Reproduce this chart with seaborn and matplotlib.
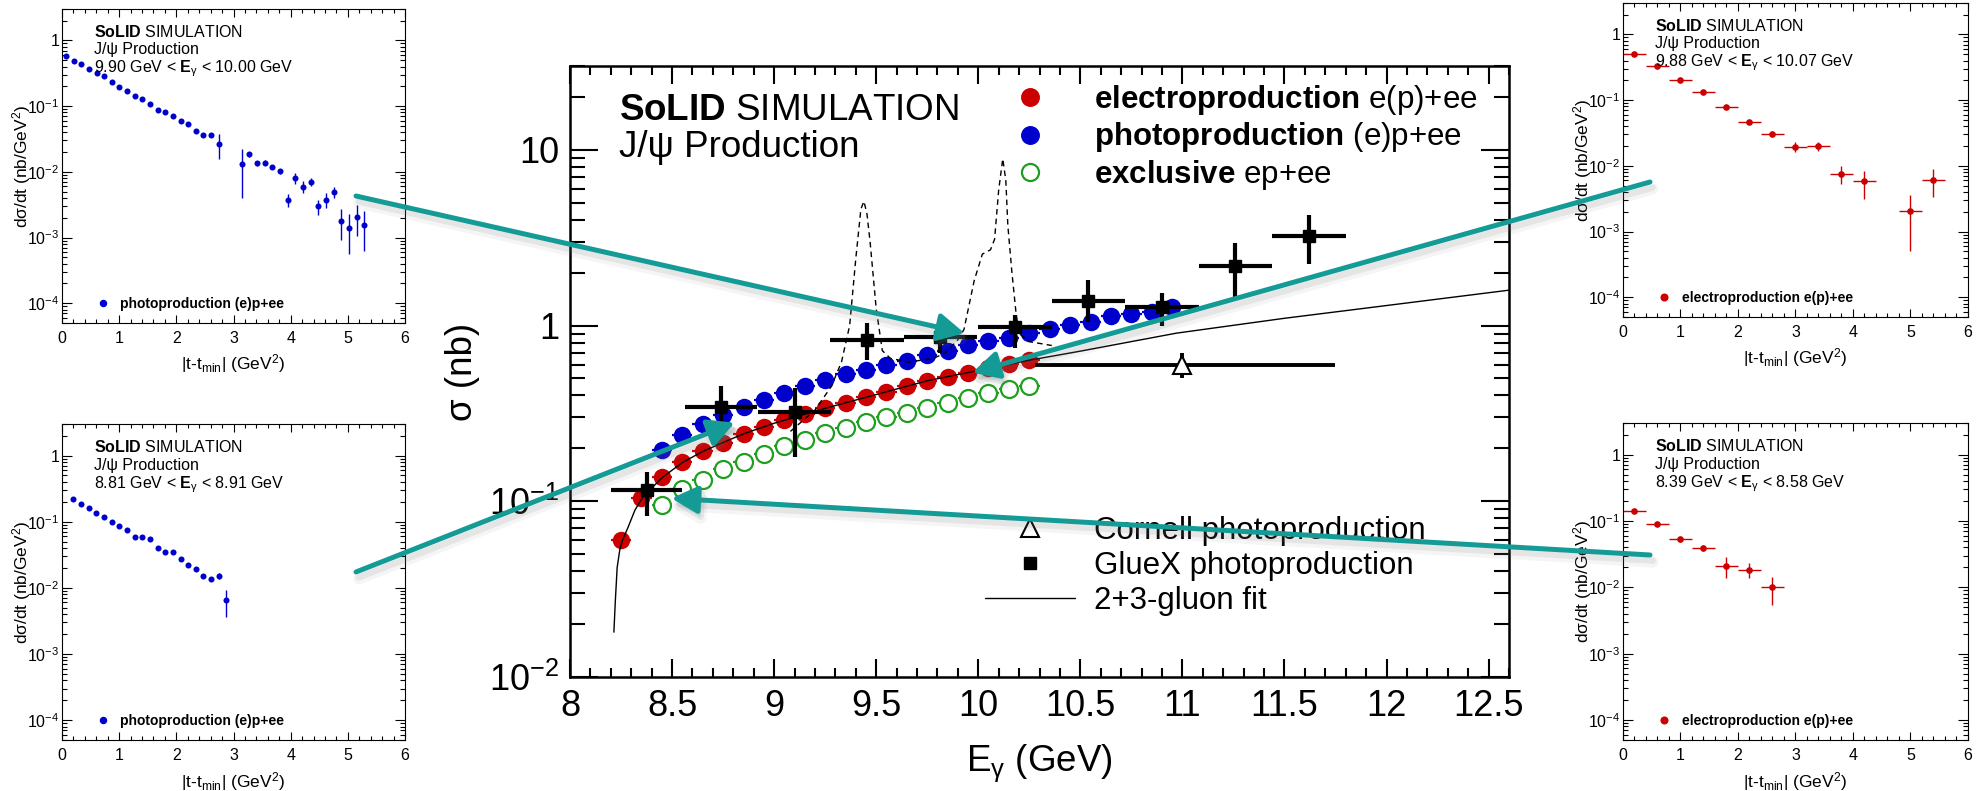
import matplotlib
matplotlib.use("Agg")
import matplotlib.pyplot as plt
import matplotlib.ticker as mticker
import matplotlib.patheffects as pe
from matplotlib.patches import ConnectionPatch
from matplotlib.lines import Line2D
import numpy as np
import seaborn as sns

sns.set_theme(style="ticks")
plt.rcParams.update({
    "font.family": ["Liberation Sans", "DejaVu Sans"],
    "mathtext.fontset": "custom",
    "mathtext.rm": "Liberation Sans",
    "mathtext.it": "Liberation Sans:italic",
    "mathtext.bf": "Liberation Sans:bold",
    "axes.edgecolor": "black",
    "xtick.color": "black",
    "ytick.color": "black",
    "text.color": "black",
    "axes.labelcolor": "black",
})

RED = "#cc0000"
BLUE = "#0000cc"
GREEN = "#1f9f1f"
TEAL = "#149b96"

# ---------------- main panel: sigma(E_gamma) ----------------
electro_E = [8.25, 8.35, 8.45, 8.55, 8.65, 8.75, 8.85, 8.95, 9.05, 9.15, 9.25,
             9.35, 9.45, 9.55, 9.65, 9.75, 9.85, 9.95, 10.05, 10.15, 10.25]
electro_sigma = [0.060, 0.105, 0.138, 0.168, 0.193, 0.216, 0.242, 0.266, 0.292, 0.314, 0.338,
                 0.362, 0.390, 0.420, 0.450, 0.485, 0.512, 0.540, 0.572, 0.605, 0.638]

photo_E = [8.45, 8.55, 8.65, 8.75, 8.85, 8.95, 9.05, 9.15, 9.25, 9.35, 9.45, 9.55, 9.65,
           9.75, 9.85, 9.95, 10.05, 10.15, 10.25, 10.35, 10.45, 10.55, 10.65, 10.75, 10.85, 10.95]
photo_sigma = [0.196, 0.238, 0.275, 0.310, 0.345, 0.375, 0.415, 0.450, 0.490, 0.530, 0.560, 0.600, 0.632,
               0.680, 0.720, 0.775, 0.820, 0.855, 0.905, 0.950, 1.010, 1.050, 1.130, 1.170, 1.200, 1.270]

excl_E = [8.45, 8.55, 8.65, 8.75, 8.85, 8.95, 9.05, 9.15, 9.25, 9.35, 9.45, 9.55,
          9.65, 9.75, 9.85, 9.95, 10.05, 10.15, 10.25]
excl_sigma = [0.095, 0.118, 0.133, 0.152, 0.168, 0.185, 0.205, 0.223, 0.244, 0.260, 0.284, 0.300,
              0.317, 0.338, 0.361, 0.386, 0.412, 0.434, 0.450]
bin_half = 0.05

gluex_E = [8.375, 8.74, 9.10, 9.455, 9.815, 10.18, 10.54, 10.90, 11.26, 11.62]
gluex_dE = [0.175, 0.175, 0.18, 0.18, 0.18, 0.18, 0.18, 0.18, 0.18, 0.18]
gluex_sigma = [0.116, 0.345, 0.322, 0.83, 0.866, 0.98, 1.38, 1.28, 2.17, 3.24]
gluex_lo = [0.082, 0.25, 0.178, 0.638, 0.696, 0.743, 1.05, 0.99, 1.46, 2.25]
gluex_hi = [0.147, 0.45, 0.44, 1.03, 1.10, 1.15, 1.82, 1.53, 2.95, 4.24]

cornell_E = [11.0]
cornell_E_lo = [10.28]
cornell_E_hi = [11.75]
cornell_sigma = [0.60]
cornell_lo = [0.50]
cornell_hi = [0.70]

fit_E = [8.215, 8.222, 8.231, 8.244, 8.257, 8.285, 8.318, 8.355, 8.45, 8.55, 8.65, 8.75,
         8.85, 9.0, 9.25, 9.5, 9.75, 10.0, 10.25, 10.5, 10.97, 11.5, 12.0, 12.6]
fit_sigma = [0.018, 0.027, 0.042, 0.053, 0.060, 0.0714, 0.089, 0.105, 0.136, 0.166, 0.192, 0.216,
             0.242, 0.278, 0.338, 0.405, 0.485, 0.555, 0.635, 0.715, 0.905, 1.10, 1.30, 1.59]

pc_E = [9.08, 9.20, 9.28, 9.33, 9.37, 9.40, 9.425, 9.44, 9.455, 9.47, 9.50, 9.53, 9.57,
        9.66, 9.78, 9.84, 9.90, 9.93, 9.98, 10.02, 10.06, 10.08, 10.10, 10.12, 10.135,
        10.145, 10.165, 10.185, 10.20, 10.25, 10.36]
pc_sigma = [0.25, 0.33, 0.45, 0.62, 1.0, 2.4, 4.6, 5.1, 4.3, 3.0, 1.25, 0.72, 0.65,
            0.62, 0.65, 0.70, 0.83, 0.95, 1.8, 2.55, 2.7, 3.1, 5.9, 8.9, 6.7,
            3.7, 2.0, 1.18, 0.90, 0.81, 0.77]

# ---------------- t-distributions ----------------
tl_t = [0.070, 0.204, 0.338, 0.472, 0.606, 0.740, 0.874, 1.002, 1.136, 1.270, 1.404, 1.538,
        1.672, 1.805, 1.939, 2.073, 2.207, 2.341, 2.475, 2.609, 2.743, 3.145, 3.279, 3.413,
        3.547, 3.681, 3.815, 3.949, 4.083, 4.217, 4.351, 4.485, 4.619, 4.752, 4.886, 5.020,
        5.154, 5.288]
tl_xs = [0.58, 0.493, 0.43, 0.369, 0.318, 0.283, 0.23, 0.198, 0.172, 0.144, 0.127, 0.107,
         0.0878, 0.081, 0.0713, 0.0599, 0.054, 0.0413, 0.036, 0.0364, 0.0269, 0.013, 0.0184, 0.0134,
         0.0138, 0.0118, 0.0102, 0.00376, 0.00807, 0.00597, 0.00711, 0.00298, 0.00376, 0.00491,
         0.00181, 0.0014, 0.00208, 0.00157]
tl_rel = [0.03] * 20 + [0.42, 0.69, 0.10, 0.08, 0.08, 0.08, 0.08, 0.22, 0.20, 0.20, 0.15,
                        0.25, 0.25, 0.20, 0.50, 0.60, 0.50, 0.60]

bl_t = [0.192, 0.332, 0.466, 0.600, 0.734, 0.868, 1.002, 1.136, 1.270, 1.404, 1.538, 1.672,
        1.805, 1.939, 2.073, 2.207, 2.341, 2.475, 2.609, 2.743, 2.877]
bl_xs = [0.2175, 0.187, 0.161, 0.137, 0.119, 0.100, 0.0873, 0.0743, 0.0582, 0.0589, 0.0543,
         0.0407, 0.0346, 0.035, 0.0269, 0.0223, 0.0192, 0.0153, 0.0136, 0.0153, 0.00648]
bl_rel = [0.03] * 19 + [0.10, 0.45]

tr_t = [0.2, 0.6, 1.0, 1.4, 1.8, 2.2, 2.6, 3.0, 3.4, 3.8, 4.2, 5.0, 5.4]
tr_xs = [0.51, 0.325, 0.205, 0.132, 0.0782, 0.0459, 0.0306, 0.0195, 0.0199, 0.00753,
         0.00577, 0.00203, 0.00611]
tr_rel = [0.03, 0.03, 0.03, 0.04, 0.05, 0.06, 0.08, 0.18, 0.15, 0.30, 0.45, 0.75, 0.45]

br_t = [0.2, 0.6, 1.0, 1.4, 1.8, 2.2, 2.6]
br_xs = [0.141, 0.0891, 0.0531, 0.0389, 0.0211, 0.0184, 0.0100]
br_rel = [0.05, 0.06, 0.08, 0.10, 0.35, 0.25, 0.45]
t_half = 0.2

W, H = 1981, 791
fig = plt.figure(figsize=(W / 100, H / 100), dpi=100)


def box(l, t, r, b):
    return [l / W, 1 - b / H, (r - l) / W, (b - t) / H]


def log_label(v, pos):
    e = int(round(np.log10(v)))
    if e == 0:
        return "1"
    if e == 1:
        return "10"
    return r"$10^{%d}$" % e


# ================= main axes =================
ax = fig.add_axes(box(570, 66, 1509, 677))
ax.set_yscale("log")
ax.set_xlim(8, 12.6)
ax.set_ylim(0.01, 30)

ax.plot(pc_E, pc_sigma, color="black", lw=1.0, ls=(0, (4, 3)), zorder=4)

ax.errorbar(electro_E, electro_sigma, xerr=bin_half, fmt="none", ecolor=RED, elinewidth=1.6, zorder=2)
ax.errorbar(photo_E, photo_sigma, xerr=bin_half, fmt="none", ecolor=BLUE, elinewidth=1.6, zorder=2)
ax.errorbar(excl_E, excl_sigma, xerr=bin_half, fmt="none", ecolor=GREEN, elinewidth=1.6, zorder=2)

sns.scatterplot(x=electro_E, y=electro_sigma, ax=ax, s=158, color=RED, linewidth=0, zorder=3, legend=False)
sns.scatterplot(x=photo_E, y=photo_sigma, ax=ax, s=158, color=BLUE, linewidth=0, zorder=3, legend=False)
sns.scatterplot(x=excl_E, y=excl_sigma, ax=ax, s=150, color="white", edgecolor=GREEN,
                linewidth=1.6, zorder=3, legend=False)

ax.plot(fit_E, fit_sigma, color="black", lw=1.0, zorder=4)

g_sig = np.array(gluex_sigma)
ax.errorbar(gluex_E, gluex_sigma, xerr=gluex_dE,
            yerr=[g_sig - np.array(gluex_lo), np.array(gluex_hi) - g_sig],
            fmt="s", ms=9, color="black", elinewidth=3.0, capsize=0, zorder=5)

c_E = np.array(cornell_E)
c_sig = np.array(cornell_sigma)
ax.errorbar(cornell_E, cornell_sigma,
            xerr=[c_E - np.array(cornell_E_lo), np.array(cornell_E_hi) - c_E],
            yerr=[c_sig - np.array(cornell_lo), np.array(cornell_hi) - c_sig],
            fmt="^", ms=13, mfc="white", mec="black", mew=1.5, ecolor="black",
            elinewidth=2.8, capsize=0, zorder=5)

ax.xaxis.set_major_locator(mticker.MultipleLocator(0.5))
ax.xaxis.set_minor_locator(mticker.MultipleLocator(0.1))
ax.xaxis.set_major_formatter(mticker.FuncFormatter(lambda v, p: "%g" % v))
ax.yaxis.set_major_locator(mticker.LogLocator(base=10, numticks=10))
ax.yaxis.set_minor_locator(mticker.LogLocator(base=10, subs=np.arange(2, 10), numticks=20))
ax.yaxis.set_major_formatter(mticker.FuncFormatter(log_label))
ax.yaxis.set_minor_formatter(mticker.NullFormatter())
ax.tick_params(which="both", direction="in", top=True, right=True, width=1.5, labelsize=26)
ax.tick_params(axis="x", which="major", length=13, pad=9)
ax.tick_params(axis="x", which="minor", length=6.5)
ax.tick_params(axis="y", which="major", length=20, pad=8)
ax.tick_params(axis="y", which="minor", length=11)
for sp in ax.spines.values():
    sp.set_linewidth(1.8)

ax.set_xlabel(r"E$_{\mathregular{γ}}$ (GeV)", fontsize=26.5)
ax.xaxis.set_label_coords(0.50, -0.141)
ax.xaxis.label.set_va("center")
ax.set_ylabel("σ (nb)", fontsize=26.5)
ax.yaxis.set_label_coords(-0.115, 0.5)
ax.yaxis.label.set_va("center")

ax.text(0.052, 0.9116, r"$\mathbf{SoLID}$ SIMULATION", transform=ax.transAxes,
        fontsize=26.5, va="baseline", ha="left")
ax.text(0.052, 0.8516, "J/ψ Production", transform=ax.transAxes,
        fontsize=26.5, va="baseline", ha="left")

h_el = Line2D([], [], ls="", marker="o", ms=12.6, mfc=RED, mec=RED)
h_ph = Line2D([], [], ls="", marker="o", ms=12.6, mfc=BLUE, mec=BLUE)
h_ex = Line2D([], [], ls="", marker="o", ms=12.3, mfc="white", mec=GREEN, mew=1.6)
leg_kw = dict(frameon=False, fontsize=22.5, handlelength=2.88, handletextpad=0.61,
              labelspacing=0.1, borderpad=0, borderaxespad=0, numpoints=1, loc="center left")
leg1 = ax.legend([h_el, h_ph, h_ex],
                 [r"$\mathbf{electroproduction}$ e(p)+ee",
                  r"$\mathbf{photoproduction}$ (e)p+ee",
                  r"$\mathbf{exclusive}$ ep+ee"],
                 bbox_to_anchor=(0.442, 0.883), **leg_kw)
ax.add_artist(leg1)
h_co = Line2D([], [], ls="", marker="^", ms=13, mfc="white", mec="black", mew=1.5)
h_gx = Line2D([], [], ls="", marker="s", ms=9, mfc="black", mec="black")
h_fit = Line2D([], [], ls="-", lw=1.0, color="black")
leg_kw["labelspacing"] = 0.17
ax.legend([h_co, h_gx, h_fit], ["Cornell photoproduction", "GlueX photoproduction", "2+3-gluon fit"],
          bbox_to_anchor=(0.442, 0.1817), **leg_kw)


# ================= t-distribution insets =================
def inset(bx, t, xs, rel, color, xerr, energy, legend_label, size):
    a = fig.add_axes(box(*bx))
    a.set_yscale("log")
    a.set_xlim(0, 6)
    a.set_ylim(5e-5, 3)
    xs_a = np.array(xs)
    err = xs_a * np.array(rel)
    a.errorbar(t, xs, xerr=xerr, yerr=err, fmt="none", ecolor=color, elinewidth=1.0, zorder=2)
    sns.scatterplot(x=t, y=xs, ax=a, s=size, color=color, linewidth=0, zorder=3, legend=False)
    a.xaxis.set_major_locator(mticker.MultipleLocator(1))
    a.xaxis.set_minor_locator(mticker.MultipleLocator(0.2))
    a.yaxis.set_major_locator(mticker.LogLocator(base=10, numticks=10))
    a.yaxis.set_minor_locator(mticker.LogLocator(base=10, subs=np.arange(2, 10), numticks=20))
    a.yaxis.set_major_formatter(mticker.FuncFormatter(log_label))
    a.yaxis.set_minor_formatter(mticker.NullFormatter())
    a.tick_params(which="both", direction="in", top=True, right=True, width=0.8, labelsize=11.5)
    a.tick_params(axis="x", which="major", length=6, pad=6)
    a.tick_params(axis="x", which="minor", length=3)
    a.tick_params(axis="y", which="major", length=7, pad=2)
    a.tick_params(axis="y", which="minor", length=3.5)
    for sp in a.spines.values():
        sp.set_linewidth(0.8)
    a.set_xlabel(r"|t-t$_{\mathregular{min}}$| (GeV$^{\mathregular{2}}$)", fontsize=12.5)
    a.xaxis.set_label_coords(0.5, -0.13)
    a.xaxis.label.set_va("center")
    a.set_ylabel(r"dσ/dt (nb/GeV$^{\mathregular{2}}$)", fontsize=12.5)
    a.yaxis.set_label_coords(-0.117, 0.5)
    a.yaxis.label.set_va("center")
    a.text(0.093, 0.912, r"$\mathbf{SoLID}$ SIMULATION", transform=a.transAxes,
           fontsize=11.5, va="baseline")
    a.text(0.093, 0.856, "J/ψ Production", transform=a.transAxes, fontsize=11.5, va="baseline")
    a.text(0.093, 0.798, energy, transform=a.transAxes, fontsize=11.5, va="baseline")
    hnd = Line2D([], [], ls="", marker="o", ms=np.sqrt(size), mfc=color, mec=color)
    a.legend([hnd], [legend_label], loc="center left", bbox_to_anchor=(0.098, 0.06),
             frameon=False, borderpad=0, borderaxespad=0, handlelength=1.0,
             handletextpad=0.78, prop={"weight": "bold", "size": 10})
    return a


inset((62, 9, 405, 323), tl_t, tl_xs, tl_rel, BLUE, None,
      r"9.90 GeV < $\mathbf{E}_{\mathregular{γ}}$ < 10.00 GeV", "photoproduction (e)p+ee", 19)
inset((62, 424, 405, 740), bl_t, bl_xs, bl_rel, BLUE, None,
      r"8.81 GeV < $\mathbf{E}_{\mathregular{γ}}$ < 8.91 GeV", "photoproduction (e)p+ee", 19)
inset((1623, 3, 1968, 317), tr_t, tr_xs, tr_rel, RED, t_half,
      r"9.88 GeV < $\mathbf{E}_{\mathregular{γ}}$ < 10.07 GeV", "electroproduction e(p)+ee", 23)
inset((1623, 423, 1968, 740), br_t, br_xs, br_rel, RED, t_half,
      r"8.39 GeV < $\mathbf{E}_{\mathregular{γ}}$ < 8.58 GeV", "electroproduction e(p)+ee", 23)

# ================= pointer arrows from insets to the bins they show =================
pointers = [((356, 196), (9.933, 0.905)),
            ((1650, 182), (9.971, 0.54)),
            ((356, 572), (8.807, 0.28)),
            ((1650, 555), (8.497, 0.104))]
shadow = [pe.Stroke(offset=(2, -5), linewidth=8, foreground="0.45", alpha=0.07),
          pe.Stroke(offset=(2, -4), linewidth=4.5, foreground="0.45", alpha=0.12),
          pe.Normal()]
for (sx, sy), tip in pointers:
    cp = ConnectionPatch(xyA=(sx, H - sy), coordsA="figure pixels",
                         xyB=tip, coordsB="data", axesB=ax,
                         arrowstyle="-|>,head_length=1.05,head_width=0.55",
                         mutation_scale=15, color=TEAL, lw=3.6, zorder=10)
    cp.set_path_effects(shadow)
    fig.add_artist(cp)

fig.savefig("out.png", dpi=100)
